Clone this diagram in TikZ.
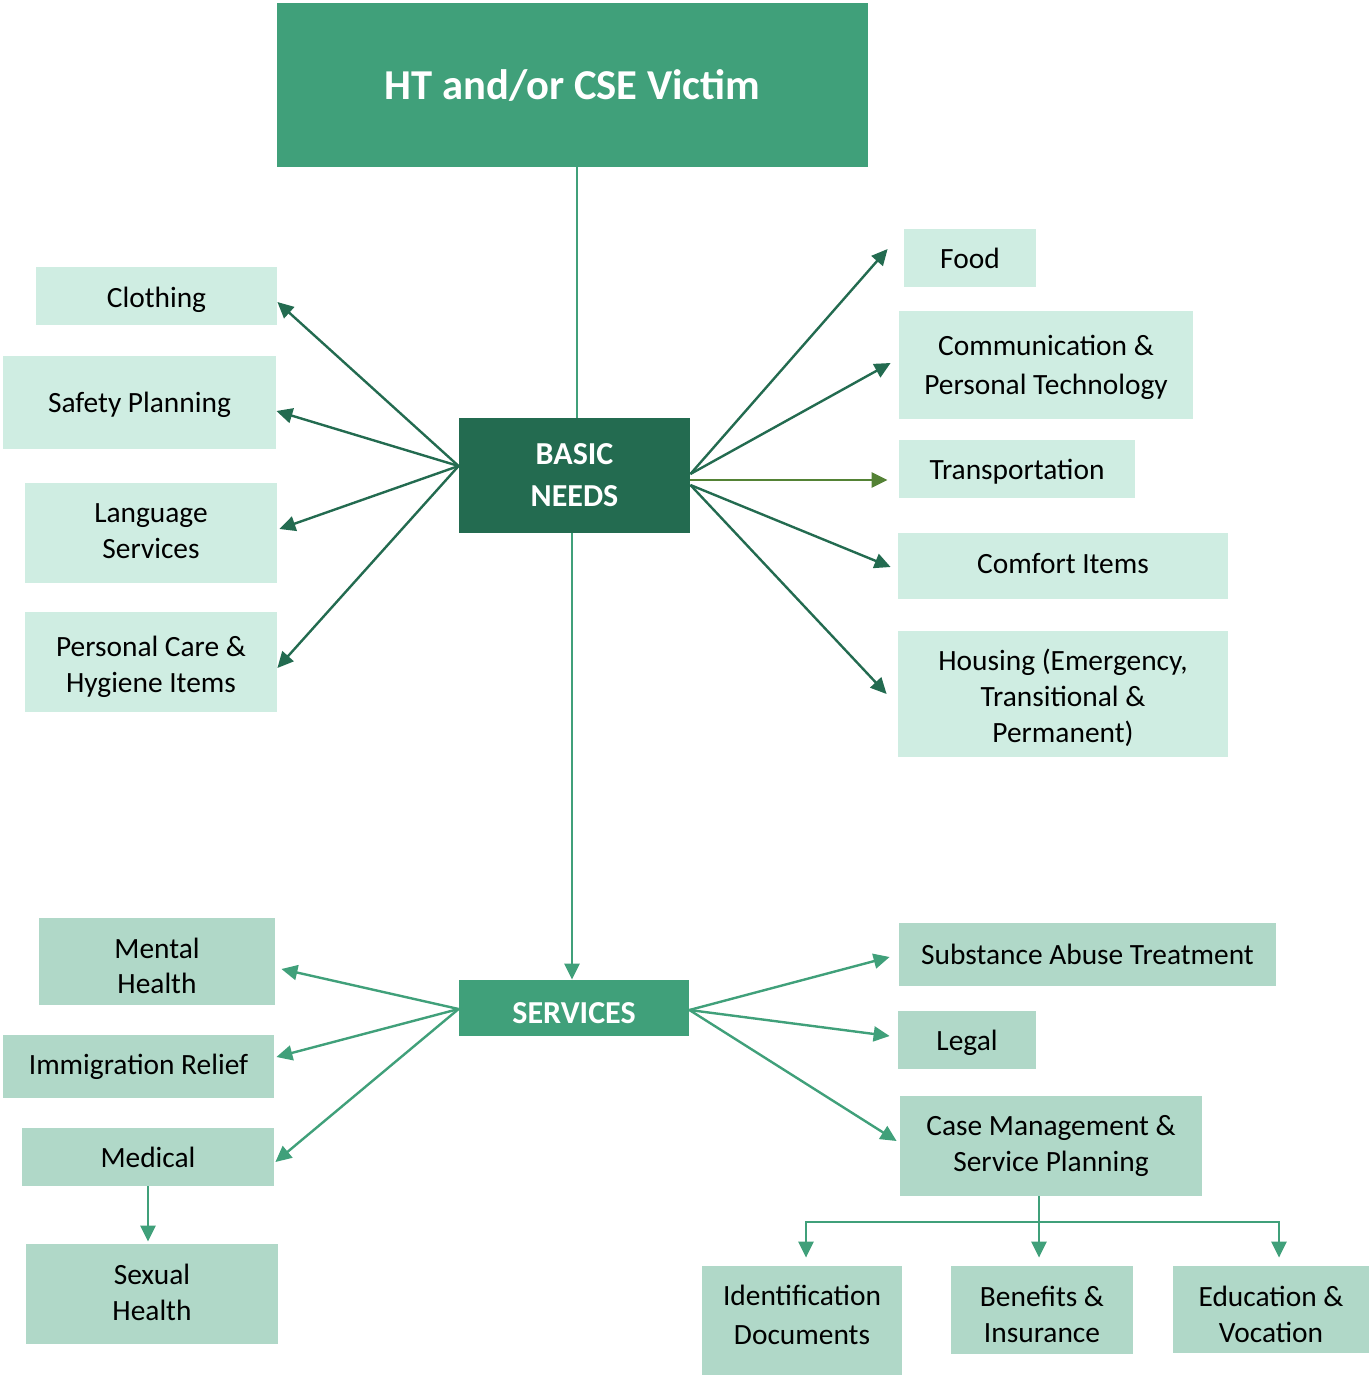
\documentclass[tikz,border=0pt]{standalone}
\usepackage{fontspec}
\setmainfont{Carlito}
\usetikzlibrary{arrows.meta}
\definecolor{midgreen}{HTML}{40A07A}
\definecolor{darkgreen}{HTML}{236B50}
\definecolor{lightup}{HTML}{CFEDE2}
\definecolor{lightdown}{HTML}{B0D8C8}
\definecolor{olive}{HTML}{548235}
\newcommand\shl[2]{\raisebox{#1}[\height][\depth]{#2}}
\tikzset{
  box/.style={rectangle, inner sep=0pt, align=center, text=black,
    font=\fontsize{14.7}{18}\selectfont},
  upbox/.style={box, fill=lightup},
  downbox/.style={box, fill=lightdown},
  darrow/.style={draw=darkgreen, line width=1.2pt, -{Triangle[length=8pt,width=7.5pt]}},
  marrow/.style={draw=midgreen, line width=1.2pt, -{Triangle[length=8pt,width=7.5pt]}},
  oarrow/.style={draw=olive, line width=1.2pt, -{Triangle[length=8pt,width=7.5pt]}},
  plainline/.style={draw=midgreen, line width=1.2pt},
}
\begin{document}
\begin{tikzpicture}[x=0.5pt,y=-0.5pt]
\useasboundingbox (0,0) rectangle (1369,1375);
% main nodes
\node[rectangle, fill=midgreen, text=white, minimum width=295.5pt, minimum height=82pt,
  font=\fontsize{21.3}{25}\selectfont\bfseries] (top) at (572.5,85) {HT and/or CSE Victim};
\node[rectangle, fill=darkgreen, text=white, align=center, minimum width=115.5pt, minimum height=57.5pt,
  font=\fontsize{16}{21}\selectfont\bfseries] (basic) at (574.5,475.5) {BASIC\\NEEDS};
\node[rectangle, fill=midgreen, text=white, minimum width=115pt, minimum height=28pt,
  font=\fontsize{16}{21}\selectfont\bfseries] (services) at (574,1008) {\shl{-2.5pt}{SERVICES}};
% basic needs left
\node[upbox, minimum width=120.5pt, minimum height=29pt] (clothing) at (156.5,296) {\shl{-2pt}{Clothing}};
\node[upbox, minimum width=136.5pt, minimum height=46.5pt] (safety) at (139.5,402.5) {\shl{-1pt}{Safety Planning}};
\node[upbox, minimum width=126pt, minimum height=50pt] (language) at (151,533) {\shl{1pt}{Language}\\\shl{1pt}{Services}};
\node[upbox, minimum width=126pt, minimum height=50pt] (personal) at (151,662) {\shl{-2.5pt}{Personal Care \&}\\\shl{-2.5pt}{Hygiene Items}};
% basic needs right
\node[upbox, minimum width=66pt, minimum height=29pt] (food) at (970,258) {Food};
\node[upbox, minimum width=147pt, minimum height=54pt] (comm) at (1046,365) {\shl{-0.5pt}{Communication \&}\\\shl{-2pt}{Personal Technology}};
\node[upbox, minimum width=118pt, minimum height=29pt] (transport) at (1017,469) {\shl{-1.5pt}{Transportation}};
\node[upbox, minimum width=165pt, minimum height=33pt] (comfort) at (1063,566) {\shl{1pt}{Comfort Items}};
\node[upbox, minimum width=165pt, minimum height=63pt] (housing) at (1063,694) {\shl{-2pt}{Housing (Emergency,}\\\shl{-2pt}{Transitional \&}\\\shl{-2pt}{Permanent)}};
% services left
\node[downbox, minimum width=118pt, minimum height=43.5pt] (mental) at (157,961.5) {\shl{-2.5pt}{Mental}\\\shl{-2pt}{Health}};
\node[downbox, minimum width=135.5pt, minimum height=31.5pt] (immig) at (138.5,1066.5) {Immigration Relief};
\node[downbox, minimum width=126pt, minimum height=29pt] (medical) at (148,1157) {Medical};
\node[downbox, minimum width=126pt, minimum height=50pt] (sexual) at (152,1294) {\shl{1pt}{Sexual}\\\shl{1pt}{Health}};
% services right
\node[downbox, minimum width=188.5pt, minimum height=31.5pt] (substance) at (1087.5,954.5) {Substance Abuse Treatment};
\node[downbox, minimum width=69pt, minimum height=29pt] (legal) at (967,1040) {\shl{-1.5pt}{Legal}};
\node[downbox, minimum width=151pt, minimum height=50pt] (cm) at (1051,1146) {Case Management \&\\Service Planning};
\node[downbox, minimum width=100pt, minimum height=54.5pt] (ident) at (802,1320.5) {\shl{3pt}{Identification}\\[1.5pt]\shl{3pt}{Documents}};
\node[downbox, minimum width=91pt, minimum height=44pt] (benefits) at (1042,1310) {\shl{-2pt}{Benefits \&}\\\shl{-2pt}{Insurance}};
\node[downbox, minimum width=98pt, minimum height=43.5pt] (education) at (1271,1309.5) {\shl{-2.5pt}{Education \&}\\\shl{-2.5pt}{Vocation}};
% trunk connectors
\draw[plainline] ([xshift=2.25pt]top.south) -- ([xshift=2.25pt]top.south |- basic.north);
\draw[marrow] ([xshift=-1.25pt]basic.south) -- ([xshift=-1.25pt]basic.south |- services.north);
% basic needs left arrows
\draw[darrow] ([yshift=4.75pt]basic.west) -- ([yshift=-3pt]clothing.east);
\draw[darrow] ([yshift=4.75pt]basic.west) -- ([yshift=-4.25pt]safety.east);
\draw[darrow] ([yshift=4.75pt]basic.west) -- ([xshift=1pt,yshift=2pt]language.east);
\draw[darrow] ([yshift=4.75pt]basic.west) -- ([yshift=-3pt]personal.east);
% basic needs right arrows
\draw[darrow] ([yshift=0.75pt]basic.east) -- ([xshift=-8pt,yshift=4.5pt]food.west);
\draw[darrow] ([yshift=0.75pt]basic.east) -- ([xshift=-4pt,yshift=1pt]comm.west);
\draw[oarrow] ([yshift=-2.25pt]basic.east) -- ([xshift=-5.5pt,yshift=-5.5pt]transport.west);
\draw[darrow] ([yshift=-4.75pt]basic.east) -- ([xshift=-3.5pt,yshift=-0.5pt]comfort.west);
\draw[darrow] ([yshift=-4.75pt]basic.east) -- ([xshift=-5.5pt]housing.west);
% services left arrows
\draw[marrow] ([yshift=-0.5pt]services.west) -- ([xshift=3pt,yshift=-3.75pt]mental.east);
\draw[marrow] ([yshift=-0.5pt]services.west) -- ([xshift=1pt,yshift=4.75pt]immig.east);
\draw[marrow] ([yshift=-0.5pt]services.west) -- ([xshift=0.5pt,yshift=-2.5pt]medical.east);
\draw[marrow] (medical.south) -- ([yshift=1pt]medical.south |- sexual.north);
% services right arrows
\draw[marrow] ([yshift=-1pt]services.east) -- ([xshift=-4.5pt,yshift=-1.25pt]substance.west);
\draw[marrow] ([yshift=-1pt]services.east) -- ([xshift=-4pt,yshift=2pt]legal.west);
\draw[marrow] ([yshift=-1pt]services.east) -- ([xshift=-1.5pt,yshift=2.5pt]cm.west);
% case management branches
\coordinate (hub) at (1039,1222);
\draw[plainline] ([xshift=-6pt]cm.south) -- (hub);
\draw[marrow] (hub) -| ([xshift=2pt,yshift=4pt]ident.north);
\draw[marrow] (hub) -| ([xshift=4pt,yshift=4pt]education.north);
\draw[marrow] (hub) -- ([xshift=-1.5pt,yshift=4pt]benefits.north);
\end{tikzpicture}
\end{document}
